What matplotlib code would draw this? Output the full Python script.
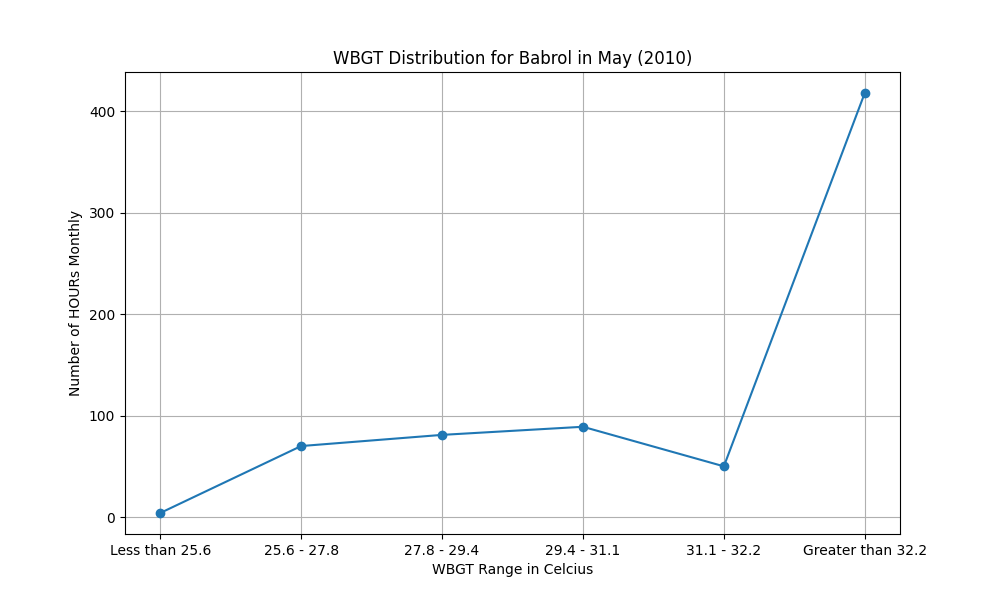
import matplotlib
matplotlib.use("Agg")
import matplotlib.pyplot as plt

# WBGT ranges and monthly hour counts
ranges = ['Less than 25.6', '25.6 - 27.8', '27.8 - 29.4', '29.4 - 31.1', '31.1 - 32.2', 'Greater than 32.2']
hours = [4, 70, 81, 89, 50, 418]

fig, ax = plt.subplots(figsize=(10, 6), dpi=100)
ax.plot(ranges, hours, marker='o')
ax.set_title('WBGT Distribution for Babrol in May (2010)')
ax.set_xlabel('WBGT Range in Celcius')
ax.set_ylabel('Number of HOURs Monthly')
ax.grid(True)

fig.savefig('out.png')
